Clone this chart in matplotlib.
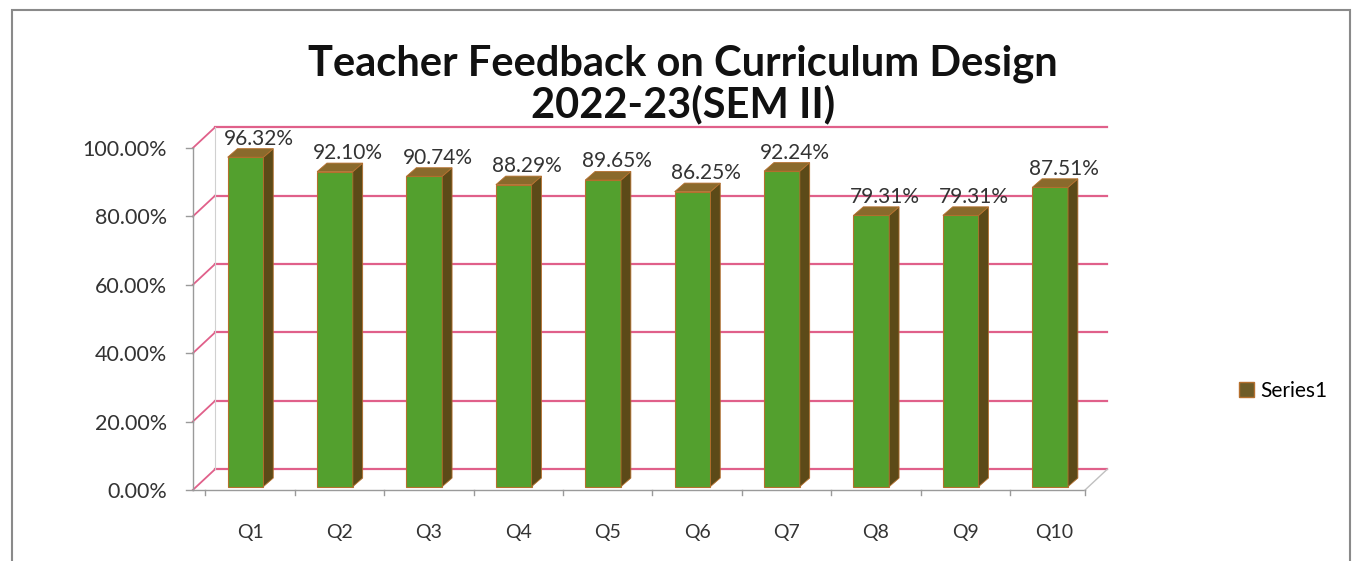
import numpy as np
import matplotlib.pyplot as plt
from matplotlib.patches import Polygon, Patch, Rectangle

plt.rcParams['font.family'] = ['Lato', 'DejaVu Sans']

questions = ["Q1", "Q2", "Q3", "Q4", "Q5", "Q6", "Q7", "Q8", "Q9", "Q10"]
scores = [96.32, 92.10, 90.74, 88.29, 89.65, 86.25, 92.24, 79.31, 79.31, 87.51]
yticks = [0, 20, 40, 60, 80, 100]
series_name = "Series1"

GREEN = "#53a02e"
SIDE = "#5c4a18"
TOP = "#8a6a2c"
EDGE = "#b5702e"
GRID = "#e0608a"
AXIS = "#9a9a9a"

# fake 3d geometry (data units)
wall_dx, wall_dy = 0.25, 6.1
bar_dx, bar_dy = 0.11, 2.5
front_left, front_right = -0.64, 9.34
bar_w, bar_shift, base = 0.4, -0.05, 1.0

fig = plt.figure(figsize=(13.58, 5.61), dpi=100)
ax = fig.add_axes([170 / 1358, 61 / 561, 970 / 1358, 380 / 561])
ax.set_xlim(-0.895, 9.955)
ax.set_ylim(-2.92, 108.2)
for s in ax.spines.values():
    s.set_visible(False)

# back wall grid + left diagonals
for v in yticks:
    ax.plot([front_left + wall_dx, front_right + wall_dx], [v + wall_dy, v + wall_dy],
            color=GRID, lw=1.6, zorder=1)
    ax.plot([front_left, front_left + wall_dx], [v, v + wall_dy], color=GRID, lw=1.3, zorder=1)
    ax.plot([front_left - 0.08, front_left], [v, v], color=AXIS, lw=1, zorder=1)

# axis frame
ax.plot([front_left, front_left], [0, 100], color=AXIS, lw=1, zorder=1)
ax.plot([front_left + wall_dx, front_left + wall_dx], [wall_dy, 100 + wall_dy], color="#d0d0d0", lw=0.8, zorder=1)
ax.plot([front_left, front_right], [0, 0], color=AXIS, lw=1, zorder=1)
ax.plot([front_right, front_right + wall_dx], [0, wall_dy], color="#c0c0c0", lw=1, zorder=1)
for b in np.arange(len(questions) + 1) - 0.5:
    bx = min(max(b, front_left), front_right)
    ax.plot([bx, bx], [0, -1.5], color=AXIS, lw=1, zorder=1)

x = np.arange(len(questions))
xf = x + bar_shift
ax.bar(xf, scores, width=bar_w, bottom=base, color=GREEN, edgecolor=EDGE, lw=0.8, zorder=3)

for xc, v in zip(xf, scores):
    l, r = xc - bar_w / 2, xc + bar_w / 2
    side = Polygon([(r, base), (r + bar_dx, base + bar_dy), (r + bar_dx, base + v + bar_dy), (r, base + v)],
                   closed=True, facecolor=SIDE, edgecolor=EDGE, lw=0.6, zorder=3)
    top = Polygon([(l, base + v), (l + bar_dx, base + v + bar_dy), (r + bar_dx, base + v + bar_dy), (r, base + v)],
                  closed=True, facecolor=TOP, edgecolor=EDGE, lw=0.6, zorder=3)
    ax.add_patch(side)
    ax.add_patch(top)
    ax.text(xc + 0.15, base + v + 2.5, f"{v:.2f}%", ha="center", va="bottom",
            fontsize=15, color="#333333", zorder=4)

ax.set_yticks(yticks)
ax.set_yticklabels([f"{v:.2f}%" for v in yticks], fontsize=15.5, color="#333333")
ax.set_xticks(x)
ax.set_xticklabels(questions, fontsize=14, color="#333333")
ax.tick_params(axis="y", length=0, pad=2)
ax.tick_params(axis="x", length=0, pad=17)

fig.text(683 / 1358, 1 - 64 / 561, "Teacher Feedback on Curriculum Design",
         ha="center", va="center", fontsize=30, fontweight="bold", color="#111111")
fig.text(683 / 1358, 1 - 104 / 561, "2022-23(SEM II)",
         ha="center", va="center", fontsize=30, fontweight="bold", color="#111111")

fig.legend(handles=[Patch(facecolor="#6e5c28", edgecolor=EDGE, label=series_name)],
           loc="center left", bbox_to_anchor=(1220 / 1358, 1 - 391 / 561), frameon=False,
           fontsize=15, handlelength=0.75, handleheight=0.75, handletextpad=0.3)

fig.patches.append(Rectangle((12 / 1358, -0.01), 1338 / 1358, 1 - 10 / 561 + 0.01,
                             transform=fig.transFigure, fill=False, edgecolor="#8a8a8a", lw=1.5))

fig.savefig("out.png", dpi=100)
